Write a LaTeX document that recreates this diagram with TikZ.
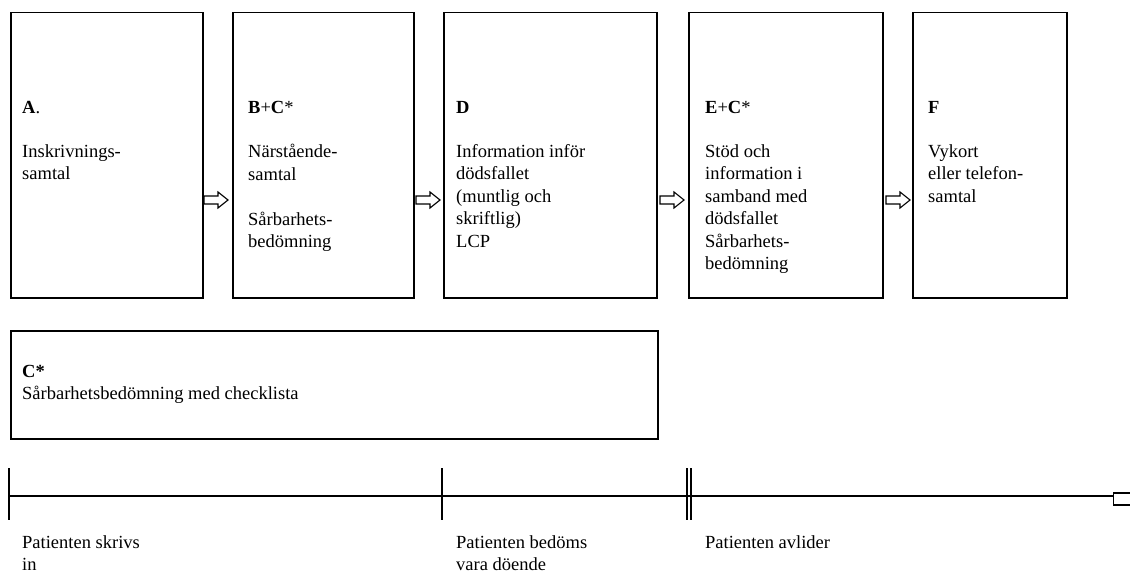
\documentclass[tikz,border=0pt]{standalone}
\usepackage{fontspec}
\setmainfont{Liberation Serif}
\begin{document}
\begin{tikzpicture}[x=1pt,y=-1pt,
  stage/.style={draw,line width=1.5pt,inner sep=0pt,anchor=north west},
  txt/.style={anchor=north west,inner sep=0pt,align=left,font=\fontsize{18.5}{22.5}\selectfont},
  blockarrow/.style={draw,line width=1.1pt,line join=miter},
  tline/.style={line width=1.5pt}]
\useasboundingbox (0,0) rectangle (1130,575);
% stage boxes
\node[stage,minimum width=192pt,minimum height=285pt] (A) at (10,12) {};
\node[stage,minimum width=181pt,minimum height=285pt] (B) at (232,12) {};
\node[stage,minimum width=213pt,minimum height=285pt] (D) at (443,12) {};
\node[stage,minimum width=194pt,minimum height=285pt] (E) at (688,12) {};
\node[stage,minimum width=154pt,minimum height=285pt] (F) at (912,12) {};
% headings
\node[txt] (Ah) at (22,101) {\textbf{A}.};
\node[txt] (Bh) at (248,101) {\textbf{B}+\textbf{C}*};
\node[txt] (Dh) at (456,101) {\textbf{D}};
\node[txt] (Eh) at (705,101) {\textbf{E}+\textbf{C}*};
\node[txt] (Fh) at (928,101) {\textbf{F}};
% bodies
\node[txt] (At) at (22,144) {Inskrivnings-\\samtal};
\node[txt] (Bt) at (248,144) {Närstående-\\samtal\\[22.5pt]Sårbarhets-\\bedömning};
\node[txt] (Dt) at (456,144) {Information inför\\dödsfallet\\(muntlig och\\skriftlig)\\LCP};
\node[txt] (Et) at (705,144) {Stöd och\\information i\\samband med\\dödsfallet\\Sårbarhets-\\bedömning};
\node[txt] (Ft) at (928,144) {Vykort\\eller telefon-\\samtal};
% arrows (hollow block arrows between the stages)
\coordinate (a1) at (216,200);
\coordinate (a2) at (428,200);
\coordinate (a3) at (672,200);
\coordinate (a4) at (898,200);
\foreach \c in {a1,a2,a3,a4}{
  \draw[blockarrow] (\c) ++(-12,-4) -- ++(14,0) -- ++(0,-4) -- ++(10,8) -- ++(-10,8) -- ++(0,-4) -- ++(-14,0) -- cycle;
}
% C* box
\node[stage,minimum width=647pt,minimum height=108pt] (C) at (10,330) {};
\node[txt] (Ct) at (22,365) {\textbf{C*}\\Sårbarhetsbedömning med checklista};
% timeline
\coordinate (t0) at (9,496);
\node[draw,line width=1.3pt,inner sep=0pt,minimum width=24pt,minimum height=12pt,anchor=west] (tend) at (1113,499) {};
\draw[tline] (t0) -- (tend.west |- t0);
\coordinate (k1a) at (9,468); \coordinate (k1b) at (9,520);
\coordinate (k2a) at (442,468); \coordinate (k2b) at (442,520);
\coordinate (k3a) at (687,468); \coordinate (k3b) at (687,520);
\coordinate (k4a) at (691,468); \coordinate (k4b) at (691,520);
\draw[tline] (k1a) -- (k1b);
\draw[tline] (k2a) -- (k2b);
\draw[tline] (k3a) -- (k3b);
\draw[tline] (k4a) -- (k4b);
% labels
\node[txt] (L1) at (22,535) {Patienten skrivs\\in};
\node[txt] (L2) at (456,535) {Patienten bedöms\\vara döende};
\node[txt] (L3) at (705,535) {Patienten avlider};
\end{tikzpicture}
\end{document}
